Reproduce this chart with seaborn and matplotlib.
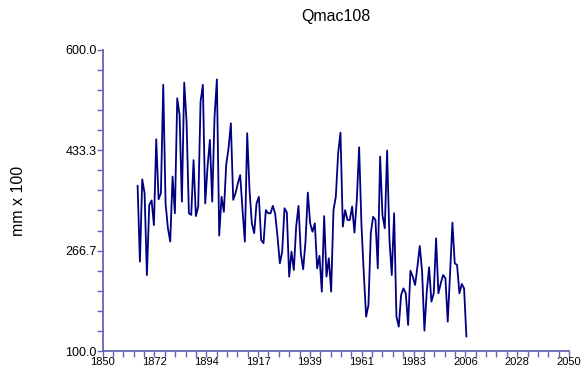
import numpy as np
import pandas as pd
import matplotlib
matplotlib.use("Agg")
import matplotlib.pyplot as plt
import seaborn as sns
from matplotlib.ticker import FixedLocator

sns.set_style("ticks")
plt.rcParams['font.family'] = ['Liberation Sans', 'DejaVu Sans']
plt.rcParams['text.color'] = 'black'
plt.rcParams['axes.labelcolor'] = 'black'
plt.rcParams['xtick.labelcolor'] = 'black'
plt.rcParams['ytick.labelcolor'] = 'black'

title = "Qmac108"
ylabel = "mm x 100"
start_year = 1865
values = [
    374.6, 248.4, 385.0, 362.0, 226.0, 342.5, 350.0, 309.0, 451.6, 352.0,
    362.0, 542.0, 345.0, 304.0, 281.6, 389.6, 328.7, 519.7, 492.0, 348.0,
    545.7, 481.0, 328.7, 326.0, 417.0, 324.0, 339.8, 514.0, 542.0, 345.0,
    406.0, 450.5, 348.0, 489.0, 551.0, 291.6, 356.0, 331.0, 409.0, 436.6,
    478.0, 351.0, 362.0, 378.5, 392.0, 334.0, 281.6, 461.6, 367.0, 312.0,
    295.5, 345.0, 356.0, 284.0, 279.0, 334.0, 328.7, 328.7, 341.0, 327.6,
    290.0, 245.6, 265.0, 337.0, 330.0, 223.5, 265.0, 234.5, 306.5, 341.0,
    262.0, 235.7, 281.6, 363.0, 312.0, 298.0, 312.0, 237.0, 258.0, 198.6,
    324.0, 223.5, 254.0, 198.6, 334.0, 356.0, 428.0, 462.7, 306.5, 334.0,
    317.6, 317.6, 339.8, 296.6, 350.8, 438.3, 309.0, 229.0, 157.0, 176.4,
    295.5, 323.0, 317.6, 237.3, 422.8, 326.0, 303.8, 432.8, 284.4, 226.2,
    328.7, 157.0, 140.4, 193.0, 204.0, 195.8, 143.2, 233.4, 223.5, 209.6,
    240.0, 274.4, 231.8, 133.8, 198.6, 239.0, 182.0, 195.8, 287.0, 195.8,
    212.4, 226.2, 220.7, 148.7, 229.0, 313.2, 245.6, 242.9, 195.8, 211.3,
    204.0, 123.8,
]
years = list(range(start_year, start_year + len(values)))

x_ticks = [1850 + k * 200 / 9 for k in range(10)]
x_ticklabels = ["1850", "1872", "1894", "1917", "1939", "1961", "1983", "2006", "2028", "2050"]
y_ticks = [100.0, 266.6667, 433.3333, 600.0]
y_ticklabels = ["100.0", "266.7", "433.3", "600.0"]

df = pd.DataFrame({"year": years, "value": values})

fig = plt.figure(figsize=(5.83, 3.75), dpi=100)
ax = fig.add_axes([0.176, 0.064, 0.8, 0.803])

sns.lineplot(data=df, x="year", y="value", ax=ax, color="#000080", linewidth=1.3)

axis_color = "#6464B4"
ax.set_xlim(1850, 2050)
ax.set_ylim(100, 600)
ax.xaxis.set_major_locator(FixedLocator(x_ticks))
ax.set_xticklabels(x_ticklabels)
ax.xaxis.set_minor_locator(FixedLocator(list(np.arange(1850, 2050.01, 200 / 45))))
ax.yaxis.set_major_locator(FixedLocator(y_ticks))
ax.set_yticklabels(y_ticklabels)
ax.yaxis.set_minor_locator(FixedLocator(list(np.arange(100, 600.01, 500 / 15))))

for side in ["top", "right"]:
    ax.spines[side].set_visible(False)
for side in ["left", "bottom"]:
    ax.spines[side].set_color(axis_color)
    ax.spines[side].set_linewidth(1.3)

ax.tick_params(axis="both", which="both", color=axis_color, width=1.0, direction="out",
               length=4, labelcolor="black")
ax.tick_params(axis="x", labelsize=8, pad=0.5)
ax.tick_params(axis="y", labelsize=9, pad=0.5)

ax.set_xlabel("")
ax.set_ylabel(ylabel, fontsize=11.5, color="black")
ax.yaxis.set_label_coords(-0.165, 0.5)
fig.text(0.576, 0.955, title, ha="center", va="center", fontsize=11.5, color="black")

fig.savefig("out.png", dpi=100)
